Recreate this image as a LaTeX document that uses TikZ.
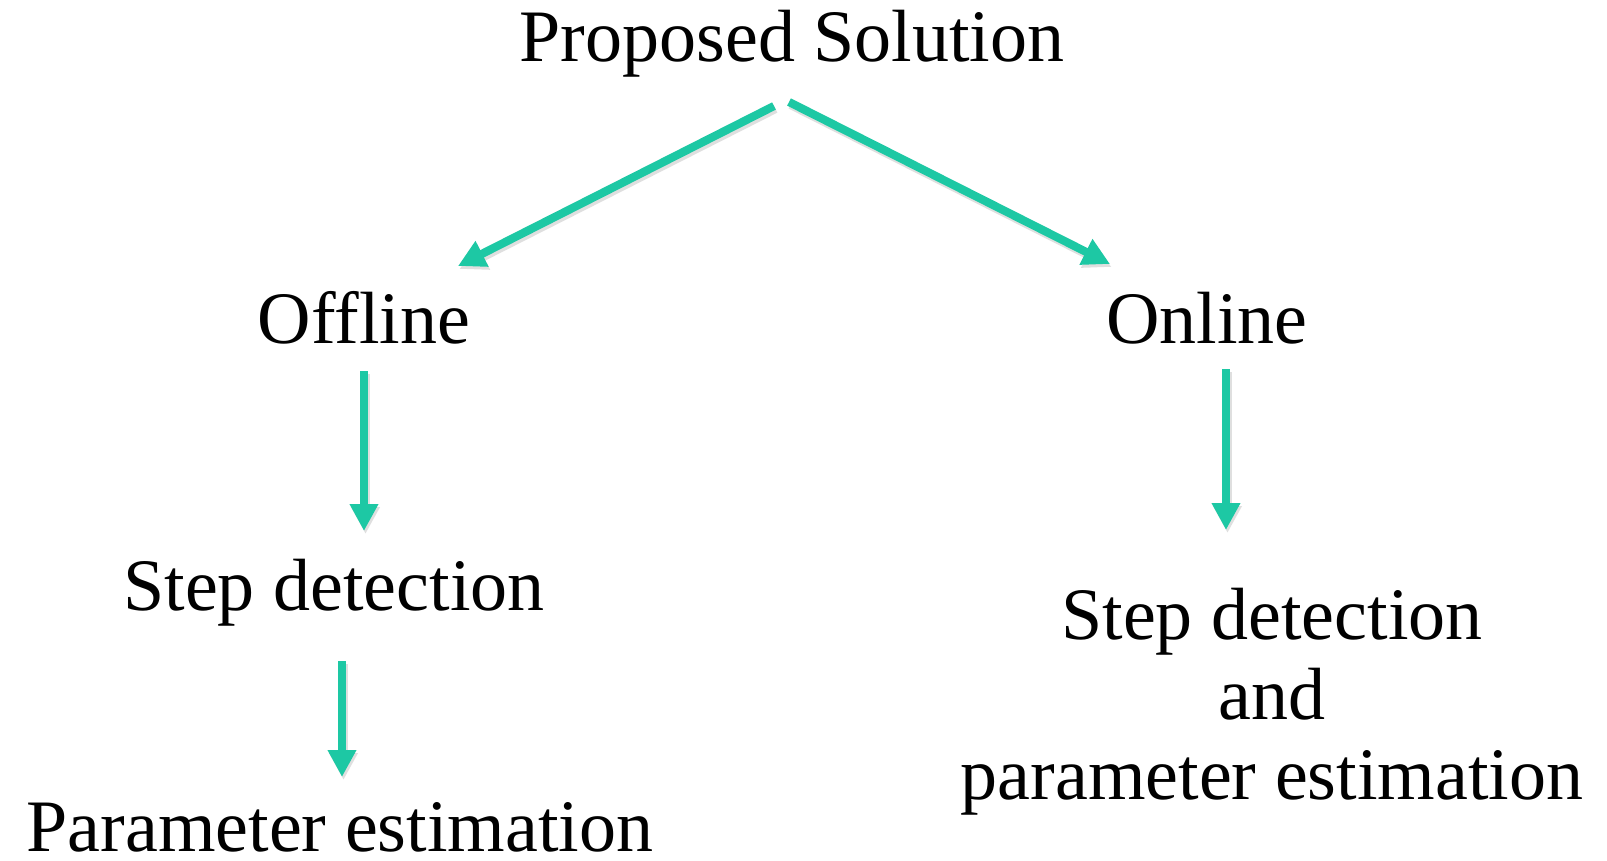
\documentclass[tikz,border=0pt]{standalone}
\usepackage{fontspec}
\setmainfont{Liberation Serif}
\usetikzlibrary{arrows.meta}
\definecolor{teal1}{RGB}{29,200,164}
\begin{document}
\begin{tikzpicture}[x=1pt,y=-1pt,
  lbl/.style={font=\fontsize{74}{80}\selectfont, inner sep=0pt, anchor=base, text=black},
  arr/.style={draw=teal1, line width=8.2pt, -{Triangle[width=27pt,length=27pt]}},
  shd/.style={draw=black!35, opacity=0.35, line width=8.2pt, -{Triangle[width=27pt,length=27pt]}}]
\useasboundingbox[fill=white] (0,0) rectangle (1607,861);
\node[lbl] (prop) at (792,61.5) {Proposed Solution};
\node[lbl] (off) at (364,343) {Offline};
\node[lbl] (on) at (1207,343) {Online};
\node[lbl] (stepL) at (334,610) {Step detection};
\node[lbl] (parL) at (340,851) {Parameter estimation};
\node[lbl, align=center] (stepR) at (1272,799) {Step detection\\and\\parameter estimation};
% connector end points
\coordinate (a1s) at (774,106); \coordinate (a1e) at (458,266);
\coordinate (a2s) at (789,102); \coordinate (a2e) at (1110,264);
\coordinate (a3s) at (364,371); \coordinate (a3e) at (364,531);
\coordinate (a4s) at (1226,369); \coordinate (a4e) at (1226,530);
\coordinate (a5s) at (342,661); \coordinate (a5e) at (342,777);
\foreach \s/\e in {a1s/a1e,a2s/a2e,a3s/a3e,a4s/a4e,a5s/a5e}{
  \draw[shd, transform canvas={xshift=1.5pt,yshift=-3pt}] (\s) -- (\e);
  \draw[arr] (\s) -- (\e);
}
\end{tikzpicture}
\end{document}
